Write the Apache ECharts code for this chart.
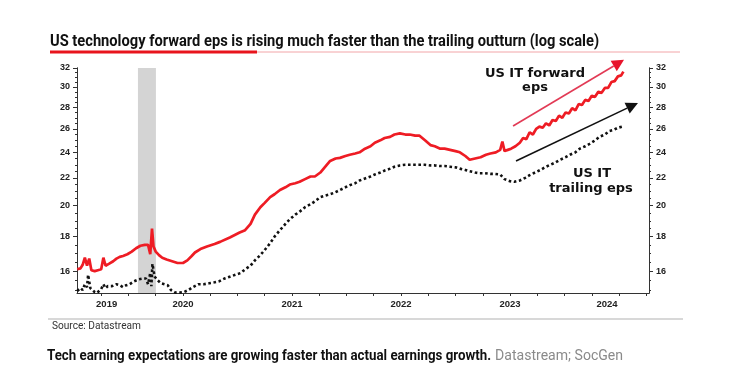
<!DOCTYPE html>
<html><head><meta charset="utf-8">
<script src="https://cdn.jsdelivr.net/npm/echarts@6/dist/echarts.min.js"></script>
<style>html,body{margin:0;padding:0;background:#fff}#c{width:751px;height:385px}</style>
</head><body><div id="c"></div>
<script>
// US IT forward EPS (red)
const fwdDates = [2019.03,2019.06,2019.08,2019.10,2019.12,2019.14,2019.16,2019.19,2019.22,2019.25,2019.27,2019.29,2019.32,2019.36,2019.39,2019.42,2019.45,2019.49,2019.53,2019.57,2019.61,2019.65,2019.68,2019.70,2019.716,2019.73,2019.75,2019.78,2019.81,2019.85,2019.90,2019.95,2020.00,2020.04,2020.08,2020.11,2020.16,2020.22,2020.29,2020.34,2020.43,2020.52,2020.57,2020.62,2020.66,2020.71,2020.75,2020.80,2020.84,2020.89,2020.94,2020.98,2021.03,2021.07,2021.12,2021.17,2021.21,2021.26,2021.30,2021.35,2021.40,2021.44,2021.49,2021.53,2021.58,2021.62,2021.67,2021.72,2021.76,2021.81,2021.85,2021.90,2021.94,2021.99,2022.04,2022.08,2022.13,2022.17,2022.22,2022.27,2022.31,2022.36,2022.40,2022.45,2022.50,2022.54,2022.59,2022.63,2022.68,2022.73,2022.78,2022.82,2022.87,2022.91,2022.93,2022.95,2022.98,2023.01,2023.05,2023.09,2023.12,2023.15,2023.18,2023.21,2023.24,2023.27,2023.30,2023.33,2023.36,2023.39,2023.42,2023.45,2023.48,2023.51,2023.54,2023.57,2023.60,2023.63,2023.66,2023.69,2023.72,2023.75,2023.78,2023.81,2023.84,2023.87,2023.90,2023.93,2023.96,2023.99,2024.02,2024.04];
const fwdValues = [16.10,16.15,16.35,16.75,16.30,16.70,16.05,16.00,16.05,16.10,16.75,16.30,16.40,16.55,16.70,16.80,16.85,16.95,17.10,17.30,17.45,17.50,17.50,16.95,18.50,17.40,17.10,16.90,16.75,16.65,16.55,16.45,16.45,16.60,16.85,17.05,17.25,17.40,17.55,17.68,17.95,18.25,18.40,18.80,19.40,19.90,20.20,20.60,20.80,21.10,21.30,21.50,21.60,21.70,21.90,22.10,22.10,22.40,22.80,23.30,23.50,23.55,23.70,23.80,23.90,24.00,24.30,24.50,24.80,25.00,25.20,25.30,25.50,25.60,25.50,25.50,25.40,25.40,25.00,24.60,24.50,24.30,24.30,24.20,24.10,24.00,23.70,23.40,23.50,23.60,23.80,23.90,24.00,24.20,24.90,24.10,24.20,24.30,24.50,24.80,25.20,25.10,25.70,25.50,26.00,26.20,26.10,26.50,26.30,26.80,26.70,27.20,27.00,27.50,27.40,27.90,27.70,28.30,28.20,28.70,28.60,29.10,29.00,29.50,29.40,29.90,29.90,30.50,30.60,31.10,31.20,31.60];
// US IT trailing EPS (black dotted)
const trlDates = [2019.03,2019.06,2019.08,2019.10,2019.12,2019.13,2019.15,2019.17,2019.19,2019.21,2019.23,2019.25,2019.27,2019.29,2019.31,2019.35,2019.39,2019.42,2019.45,2019.48,2019.51,2019.55,2019.59,2019.63,2019.66,2019.68,2019.70,2019.71,2019.72,2019.74,2019.77,2019.80,2019.83,2019.86,2019.89,2019.93,2019.97,2020.01,2020.05,2020.09,2020.14,2020.19,2020.24,2020.29,2020.33,2020.38,2020.43,2020.48,2020.53,2020.57,2020.62,2020.66,2020.71,2020.75,2020.80,2020.84,2020.89,2020.94,2020.98,2021.03,2021.07,2021.12,2021.17,2021.21,2021.26,2021.30,2021.35,2021.40,2021.44,2021.49,2021.53,2021.58,2021.62,2021.67,2021.72,2021.76,2021.81,2021.85,2021.90,2021.94,2021.99,2022.04,2022.08,2022.13,2022.17,2022.22,2022.27,2022.31,2022.36,2022.40,2022.45,2022.50,2022.54,2022.59,2022.63,2022.68,2022.72,2022.77,2022.82,2022.86,2022.91,2022.95,2023.00,2023.04,2023.09,2023.14,2023.18,2023.23,2023.28,2023.33,2023.37,2023.42,2023.46,2023.51,2023.55,2023.60,2023.64,2023.69,2023.73,2023.78,2023.82,2023.87,2023.91,2023.95,2023.99,2024.03];
const trlValues = [14.95,15.10,15.00,15.30,15.15,15.80,15.10,15.00,14.90,14.85,14.95,15.05,15.30,15.10,15.20,15.20,15.30,15.25,15.15,15.25,15.30,15.45,15.55,15.60,15.60,15.30,15.90,15.20,16.40,15.70,15.50,15.35,15.30,15.25,15.00,14.87,14.87,14.90,15.00,15.15,15.30,15.30,15.35,15.40,15.45,15.60,15.70,15.80,15.90,16.10,16.30,16.60,16.90,17.20,17.60,18.00,18.40,18.80,19.10,19.40,19.60,19.90,20.10,20.30,20.60,20.70,20.80,20.95,21.10,21.30,21.45,21.60,21.80,21.95,22.10,22.25,22.40,22.55,22.70,22.85,22.95,23.00,23.00,23.00,23.00,23.00,22.95,22.95,22.90,22.90,22.85,22.80,22.70,22.60,22.50,22.40,22.35,22.35,22.30,22.30,22.25,21.90,21.75,21.70,21.80,22.00,22.20,22.40,22.60,22.85,23.00,23.20,23.40,23.60,23.80,24.00,24.30,24.50,24.70,25.00,25.30,25.50,25.80,25.90,26.10,26.20];
// axes
const yTickLabels = [16,18,20,22,24,26,28,30,32];
const yMinorTicks = [15,15.5,16,16.5,17,17.5,18,18.5,19,19.5,20,20.5,21,21.5,22,22.5,23,23.5,24,24.5,25,25.5,26,26.5,27,27.5,28,28.5,29,29.5,30,30.5,31,31.5,32];
const xQuarterTicks = [2019.25,2019.5,2019.75,2020,2020.25,2020.5,2020.75,2021,2021.25,2021.5,2021.75,2022,2022.25,2022.5,2022.75,2023,2023.25,2023.5,2023.75,2024,2024.25];
const xLabelPositions = [2019.30,2020,2021,2022,2023,2023.89];
const xYearLabels = ['2019','2020','2021','2022','2023','2024'];
const shadeBand = [2019.587,2019.752];
const yMin = 14.85, yMax = 32, xMin = 2019.028, xMax = 2024.275;
// annotation arrows (data space: [year, eps])
const fwdArrow = [[2023.028,26.25],[2024.046,32.9]];
const trlArrow = [[2023.055,23.30],[2024.174,28.40]];

const L = Math.log;
const fwdData = fwdDates.map((d,i)=>[d, L(fwdValues[i])]);
const trlData = trlDates.map((d,i)=>[d, L(trlValues[i])]);

const axisCol = '#333';
const lblStyle = {color:'#222', fontSize:9, fontWeight:'bold', fontFamily:'Liberation Sans, Arial, sans-serif'};
function yAxisDef(pos, major){
  return {
    type:'value', position:pos, min:L(yMin), max:L(yMax),
    axisLine:{show:true, lineStyle:{color:axisCol, width:1}},
    splitLine:{show:false},
    axisTick:{show:true, inside:false, length: major?4:2, lineStyle:{color:axisCol, width:1},
      customValues:(major?yTickLabels:yMinorTicks).map(L)},
    axisLabel: major ? Object.assign({show:true, margin:7, customValues:yTickLabels.map(L),
      formatter:v=>String(Math.round(Math.exp(v)))}, lblStyle) : {show:false}
  };
}

const chart = echarts.init(document.getElementById('c'), null, {renderer:'canvas'});
const annFont = 'bold 13px "DejaVu Sans", sans-serif';
chart.setOption({
  animation:false,
  backgroundColor:'#fff',
  grid:{left:77, right:102, top:68, bottom:92, containLabel:false},
  xAxis:{
    type:'value', min:xMin, max:xMax,
    axisLine:{show:true, onZero:false, lineStyle:{color:axisCol, width:1}},
    splitLine:{show:false},
    axisTick:{show:true, length:3, customValues:xQuarterTicks, lineStyle:{color:axisCol}},
    axisLabel:Object.assign({margin:6, customValues:xLabelPositions,
      formatter:v=>{const i=xLabelPositions.findIndex(p=>Math.abs(p-v)<1e-6); return i>=0?xYearLabels[i]:'';}}, lblStyle, {fontSize:9.5})
  },
  yAxis:[yAxisDef('left',true), yAxisDef('right',true), yAxisDef('left',false), yAxisDef('right',false)],
  series:[
    {
      type:'line', data:trlData, showSymbol:false, clip:false, z:3,
      lineStyle:{color:'#111', width:2.6, type:[2.6,2.6], cap:'butt'},
      markArea:{silent:true, itemStyle:{color:'#d4d4d4'}, data:[[{xAxis:shadeBand[0]},{xAxis:shadeBand[1]}]]}
    },
    {
      type:'line', data:fwdData, showSymbol:false, clip:false, z:4,
      lineStyle:{color:'#ee1c24', width:2.7}
    }
  ]
});

function arrow(a, stroke, head){
  const p0 = chart.convertToPixel({xAxisIndex:0, yAxisIndex:0}, [a[0][0], L(a[0][1])]);
  const p1 = chart.convertToPixel({xAxisIndex:0, yAxisIndex:0}, [a[1][0], L(a[1][1])]);
  const dx = p1[0]-p0[0], dy = p1[1]-p0[1], len = Math.hypot(dx,dy);
  const ux = dx/len, uy = dy/len, h = 12, w = 6;
  const bx = p1[0]-ux*h, by = p1[1]-uy*h;
  return [
    {type:'line', shape:{x1:p0[0], y1:p0[1], x2:bx, y2:by}, style:{stroke:stroke, lineWidth:1.6}},
    {type:'polygon', shape:{points:[[p1[0],p1[1]],[bx-uy*w, by+ux*w],[bx+uy*w, by-ux*w]]}, style:{fill:head}}
  ];
}

const g = [
  {type:'text', x:50, y:34, scaleX:0.917, style:{text:'US technology forward eps is rising much faster than the trailing outturn (log scale)',
    fill:'#111', font:'bold 16px Roboto, sans-serif'}},
  {type:'line', shape:{x1:257,y1:52,x2:680,y2:52}, style:{stroke:'#f2a5a8', lineWidth:1}},
  {type:'line', shape:{x1:50,y1:52,x2:257,y2:52}, style:{stroke:'#e8141c', lineWidth:3}},
  {type:'text', x:535, y:74, style:{text:'US IT forward', align:'center', verticalAlign:'middle', fill:'#111', font:annFont}},
  {type:'text', x:535, y:88, style:{text:'eps', align:'center', verticalAlign:'middle', fill:'#111', font:annFont}},
  {type:'text', x:592, y:174, style:{text:'US IT', align:'center', verticalAlign:'middle', fill:'#111', font:annFont}},
  {type:'text', x:591, y:189, style:{text:'trailing eps', align:'center', verticalAlign:'middle', fill:'#111', font:annFont}},
  {type:'line', shape:{x1:48,y1:319,x2:683,y2:319}, style:{stroke:'#d8d8d8', lineWidth:2}},
  {type:'text', x:52, y:321, scaleX:0.92, style:{text:'Source: Datastream', fill:'#333', font:'11px Roboto, sans-serif'}},
  {type:'text', x:47, y:349, scaleX:0.95, style:{text:'Tech earning expectations are growing faster than actual earnings growth.',
    fill:'#111', font:'bold 14px Roboto, sans-serif'}},
  {type:'text', x:495, y:349, scaleX:0.97, style:{text:'Datastream; SocGen', fill:'#8a8a8a', font:'14.5px Roboto, sans-serif'}}
].concat(arrow(fwdArrow, '#e23a55', '#e8142c'), arrow(trlArrow, '#111', '#111'));
chart.setOption({graphic:g});
</script></body></html>
